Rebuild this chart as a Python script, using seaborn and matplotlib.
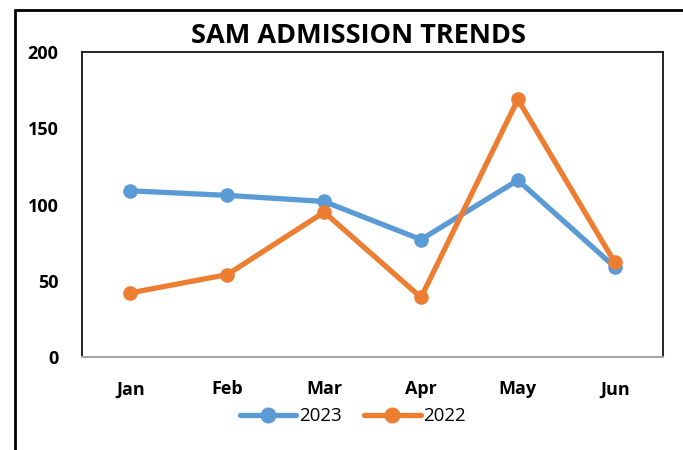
import matplotlib
matplotlib.use("Agg")
import matplotlib.pyplot as plt
import seaborn as sns
import pandas as pd
from matplotlib.lines import Line2D

months = ["Jan", "Feb", "Mar", "Apr", "May", "Jun"]
series_2023 = [109, 106, 102, 77, 116, 59]
series_2022 = [42, 54, 95, 39, 169, 62]
yticks = [0, 50, 100, 150, 200]

sns.set_theme(style="white")
plt.rcParams["font.family"] = ["Open Sans", "DejaVu Sans"]

df = pd.DataFrame({
    "Month": months * 2,
    "Value": series_2023 + series_2022,
    "Year": ["2023"] * 6 + ["2022"] * 6,
})

fig = plt.figure(figsize=(6.83, 4.5), dpi=100)
ax = fig.add_axes([0.120, 0.207, 0.851, 0.677])
palette = {"2023": "#5B9BD5", "2022": "#ED7D31"}
sns.lineplot(data=df, x="Month", y="Value", hue="Year", palette=palette,
             marker="o", markersize=10.5, markeredgewidth=0, linewidth=3.8,
             sort=False, ax=ax, legend=False)

ax.set_xlim(-0.5, 5.5)
ax.set_ylim(0, 200)
ax.set_yticks(yticks)
ax.set_xlabel("")
ax.set_ylabel("")
ax.tick_params(axis="y", labelsize=13, pad=17, length=0, labelcolor="black")
ax.tick_params(axis="x", labelsize=13, pad=17, length=0, labelcolor="black")
for lab in ax.get_xticklabels() + ax.get_yticklabels():
    lab.set_fontweight("bold")
for s in ["left", "top", "right"]:
    ax.spines[s].set_color("black")
    ax.spines[s].set_linewidth(1.2)
ax.spines["bottom"].set_color("#A6A6A6")
ax.spines["bottom"].set_linewidth(1.5)

fig.text(0.525, 0.92, "SAM ADMISSION TRENDS", ha="center", va="center",
         fontsize=19.5, fontweight="bold", color="black")

handles = [Line2D([0], [0], color=palette["2023"], lw=3.8, marker="o", markersize=10.5),
           Line2D([0], [0], color=palette["2022"], lw=3.8, marker="o", markersize=10.5)]
fig.legend(handles, ["2023", "2022"], loc="center", bbox_to_anchor=(0.517, 0.075),
           ncol=2, frameon=False, fontsize=13.5, handlelength=3.0, columnspacing=1.2,
           handletextpad=0.15, labelcolor="black")

fig.add_artist(Line2D([0.022, 0.022], [0.0, 0.978], color="black", lw=2, transform=fig.transFigure))
fig.add_artist(Line2D([0.022, 1.0], [0.978, 0.978], color="black", lw=2, transform=fig.transFigure))

fig.savefig("out.png", dpi=100)
